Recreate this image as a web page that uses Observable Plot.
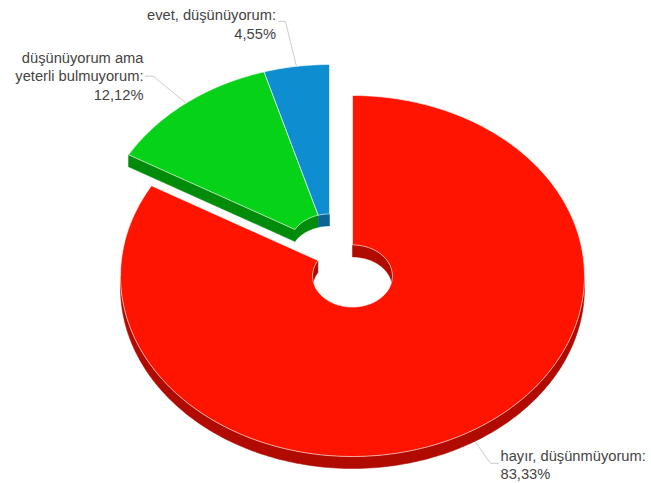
<!DOCTYPE html>
<html>
<head>
<meta charset="utf-8">
<style>html,body{margin:0;padding:0;background:#fff}</style>
<script src="https://cdn.jsdelivr.net/npm/d3@7"></script>
<script src="https://cdn.jsdelivr.net/npm/@observablehq/plot@0.6"></script>
</head>
<body>
<div id="chart"></div>
<script>
// Data
const labels = ["hayır, düşünmüyorum:", "düşünüyorum ama\nyeterli bulmuyorum:", "evet, düşünüyorum:"];
const shown = ["83,33%", "12,12%", "4,55%"];
const values = [83.33, 12.12, 4.55];
const topColors = ["#ff1400", "#06d218", "#0f8dd1"];
const wallColors = ["#b10a00", "#008c0a", "#0a6496"];

// Pie geometry
const W = 651, H = 483;
const C = {x: 352, y: 275.5}, RX = 232, RY = 180.5, HOLE = 0.172, DEPTH = 12;
const total = d3.sum(values);
const rad = d => d * Math.PI / 180;
let acc = 0;
const slices = values.map((v, i) => {
  const a0 = acc; acc += v / total * 360;
  return {i, a0, a1: acc};
});
// green and blue are pulled out together along the bisector of their joint span
const groupMid = (slices[1].a0 + 360) / 2;
const EX = 46;
const off = {x: EX * Math.sin(rad(groupMid)), y: -EX * (RY / RX) * Math.cos(rad(groupMid))};
slices.forEach((s, i) => { s.dx = i ? off.x : 0; s.dy = i ? off.y : 0; });

const pt = (s, a, r, z = 0) => ({
  x: C.x + s.dx + RX * r * Math.sin(rad(a)),
  y: C.y + s.dy + z - RY * r * Math.cos(rad(a))
});
const arc = (s, a0, a1, r, z = 0) => {
  const n = Math.max(2, Math.ceil(Math.abs(a1 - a0)));
  return d3.range(n + 1).map(k => pt(s, a0 + (a1 - a0) * k / n, r, z));
};
const closed = p => [...p, p[0]];
const band = (s, a0, a1, r) => closed([...arc(s, a0, a1, r), ...arc(s, a1, a0, r, DEPTH)]);
const clip = (s, lo, hi) => [Math.max(s.a0, lo), Math.min(s.a1, hi)];

const marks = [];
const fillMark = (p, color) => marks.push(Plot.line(p, {x: "x", y: "y", fill: color, stroke: color, strokeWidth: 0.5}));

// walls
for (const s of slices) {
  const wall = wallColors[s.i];
  // outer wall: lower half of the rim
  const [o0, o1] = clip(s, 90, 270);
  if (o1 > o0) fillMark(band(s, o0, o1, 1), wall);
  // cut-face wall for the pulled-out group
  if (s.i === 1) fillMark(closed([pt(s, s.a0, 1), pt(s, s.a0, HOLE), pt(s, s.a0, HOLE, DEPTH), pt(s, s.a0, 1, DEPTH)]), wall);
  // inner hole wall: back half of the hole
  for (const [lo, hi] of [[0, 90], [270, 360]]) {
    const [h0, h1] = clip(s, lo, hi);
    if (h1 > h0) fillMark(band(s, h0, h1, HOLE), wall);
  }
}
// top faces
for (const s of slices) {
  const face = closed([...arc(s, s.a0, s.a1, 1), ...arc(s, s.a1, s.a0, HOLE)]);
  marks.push(Plot.line(face, {x: "x", y: "y", fill: topColors[s.i], stroke: "#fff", strokeOpacity: 0.6, strokeWidth: 1}));
}
// leader lines, from the rim at each slice's mid-angle
const elbows = [[[22, 31], [30, 31]], [[-33, -27], [-41, -27]], [[-11, -45], [-18, -45]]];
slices.forEach((s, i) => {
  const m = (s.a0 + s.a1) / 2;
  const a = pt(s, m, 1);
  const [e1, e2] = elbows[i];
  marks.unshift(Plot.line([a, {x: a.x + e1[0], y: a.y + e1[1]}, {x: a.x + e2[0], y: a.y + e2[1]}], {x: "x", y: "y", stroke: "#ccc", strokeWidth: 1}));
});
// labels
const textAnchors = [
  {i: 0, x: 500, y: 463.5, anchor: "start"},
  {i: 1, x: 143, y: 75, anchor: "end"},
  {i: 2, x: 275.5, y: 23, anchor: "end"}
];
const rows = textAnchors.map(t => ({...t, text: labels[t.i] + "\n" + shown[t.i]}));
for (const r of rows) {
  marks.push(Plot.text([r], {x: "x", y: "y", text: "text", textAnchor: r.anchor, lineAnchor: "middle", lineHeight: 1.25, fontSize: 14.7, fill: "#444"}));
}

const plot = Plot.plot({
  width: W, height: H, margin: 0,
  x: {domain: [0, W], range: [0, W], axis: null},
  y: {domain: [0, H], range: [0, H], axis: null},
  style: {fontFamily: "'Liberation Sans', Arial, sans-serif", background: "#fff"},
  marks
});
document.getElementById("chart").append(plot);
</script>
</body>
</html>
